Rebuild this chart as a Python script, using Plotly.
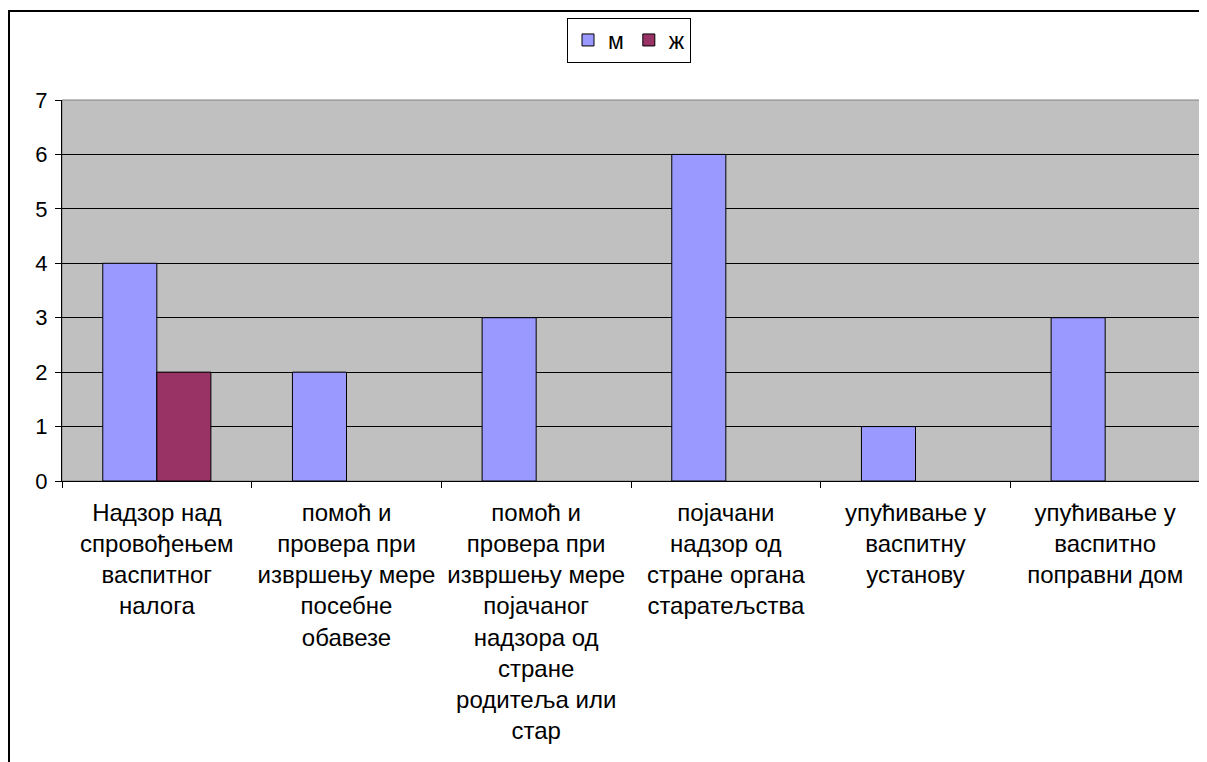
import plotly.graph_objects as go

categories = [
    "Надзор над<br>спровођењем<br>васпитног<br>налога",
    "помоћ и<br>провера при<br>извршењу мере<br>посебне<br>обавезе",
    "помоћ и<br>провера при<br>извршењу мере<br>појачаног<br>надзора од<br>стране<br>родитеља или<br>стар",
    "појачани<br>надзор од<br>стране органа<br>старатељства",
    "упућивање у<br>васпитну<br>установу",
    "упућивање у<br>васпитно<br>поправни дом",
]
male = [4, 2, 3, 6, 1, 3]
female = [2, None, None, None, None, None]
y_ticks = [0, 1, 2, 3, 4, 5, 6, 7]

# page is offset by the 8px body margin
OFF = 8
W, H = 1207, 762
L, R, T, B = 62 - OFF, 1200 - OFF, 100 - OFF, 481 - OFF  # plot area in figure pixels


def px_x(x):
    return (x - OFF - L) / (R - L)


def px_y(y):
    return (B - (y - OFF)) / (B - T)


FONT = "Liberation Sans, Arial, sans-serif"

fig = go.Figure()
fig.add_trace(go.Bar(x=categories, y=male, name="м",
                     marker=dict(color="#9999FF", line=dict(color="black", width=1))))
fig.add_trace(go.Bar(x=categories, y=female, name="ж",
                     marker=dict(color="#993366", line=dict(color="black", width=1))))

fig.update_layout(
    width=W, height=H,
    margin=dict(l=L, r=W - R, t=T, b=H - B, pad=0, autoexpand=False),
    paper_bgcolor="white",
    plot_bgcolor="#C0C0C0",
    barmode="group",
    bargap=0.43,
    bargroupgap=0,
    font=dict(family=FONT, size=20, color="black"),
    showlegend=True,
    legend=dict(
        orientation="h",
        x=px_x(629), xanchor="center",
        y=px_y(40), yanchor="middle",
        bordercolor="black", borderwidth=1,
        bgcolor="white",
        font=dict(family=FONT, size=23, color="black"),
        itemwidth=30,
        tracegroupgap=0,
        traceorder="normal",
    ),
    xaxis=dict(
        showgrid=False,
        tickson="boundaries",
        ticks="outside", ticklen=6, tickcolor="black", tickwidth=1,
        showline=True, linecolor="black", linewidth=1,
        tickfont=dict(family=FONT, size=24, color="black"),
        tickangle=0,
        ticklabelstandoff=10,
    ),
    yaxis=dict(
        range=[0, 7],
        tickvals=y_ticks,
        showgrid=True, gridcolor="black", gridwidth=1,
        ticks="outside", ticklen=6, tickcolor="black", tickwidth=1,
        showline=True, linecolor="black", linewidth=1,
        tickfont=dict(family=FONT, size=22, color="black"),
        zeroline=False,
        ticklabelstandoff=3,
    ),
    shapes=[
        dict(type="rect", xref="paper", yref="paper", x0=0, x1=1, y0=0, y1=1,
             line=dict(color="#808080", width=1), layer="below"),
        dict(type="line", xref="paper", yref="paper",
             x0=px_x(9), x1=px_x(9), y0=px_y(10), y1=px_y(780),
             line=dict(color="black", width=2)),
        dict(type="line", xref="paper", yref="paper",
             x0=px_x(8), x1=px_x(1203), y0=px_y(11), y1=px_y(11),
             line=dict(color="black", width=2)),
    ],
)

fig.write_html("out.html")
